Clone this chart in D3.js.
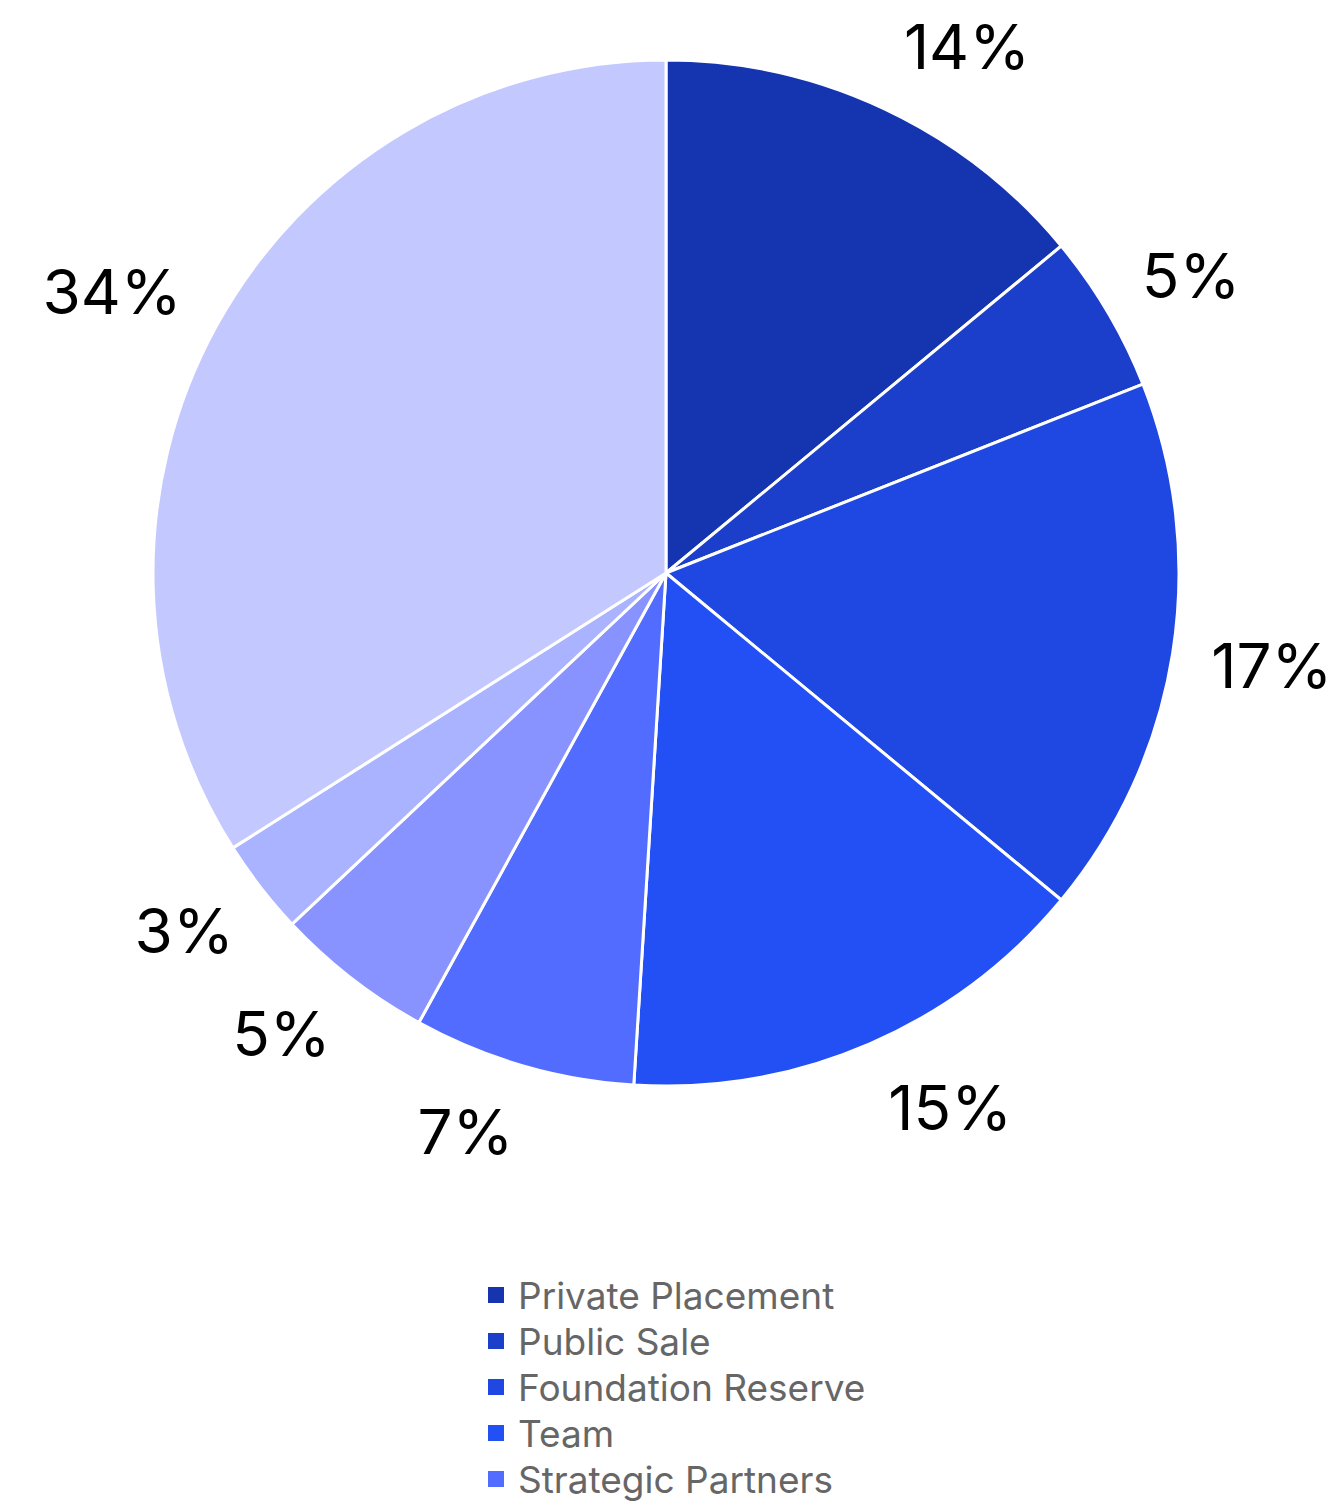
<!DOCTYPE html>
<html>
<head>
<meta charset="utf-8">
<script src="https://cdn.jsdelivr.net/npm/d3@7"></script>
<style>
  html, body { margin: 0; padding: 0; background: #fff; overflow: hidden; }
  svg { display: block; }
</style>
</head>
<body>
<svg id="chart" width="1343" height="1503"></svg>
<script>
const categories = ["Private Placement", "Public Sale", "Foundation Reserve", "Team", "Strategic Partners", "Ecosystem", "Advisors", "Community"];
const values = [14, 5, 17, 15, 7, 5, 3, 34];
const colors = ["#1534B0", "#1B3ECB", "#1F48E3", "#2250F5", "#526CFF", "#8893FF", "#AAB3FF", "#C3C8FE"];

const W = 1343, H = 1503;
const cx = 666, cy = 573, R = 513;
const svg = d3.select("#chart");

const pie = d3.pie().sort(null).value(d => d.v);
const data = categories.map((c, i) => ({ c, v: values[i], col: colors[i] }));
const arcs = pie(data);
const arcGen = d3.arc().innerRadius(0).outerRadius(R);

const g = svg.append("g").attr("transform", `translate(${cx},${cy})`);
g.selectAll("path").data(arcs).enter().append("path")
  .attr("d", arcGen)
  .attr("fill", d => d.data.col)
  .attr("stroke", "#fff")
  .attr("stroke-width", 3)
  .attr("stroke-linejoin", "round");

// labels outside each slice
const offset = 34;
const fontSize = 62;
arcs.forEach(a => {
  const mid = (a.startAngle + a.endAngle) / 2;
  const vx = Math.sin(mid), vy = -Math.cos(mid);
  const t = g.append("text")
    .attr("font-family", "Inter, 'Noto Sans', sans-serif")
    .attr("font-size", fontSize)
    .attr("fill", "#000")
    .attr("text-anchor", "middle")
    .attr("dominant-baseline", "central")
    .text(a.data.v + "%");
  const w = t.node().getComputedTextLength();
  const hh = 33;
  const x = (R + offset) * vx + Math.sign(vx) * (w / 2 + 5) + (vx < 0 && vy > 0 ? 5 : 0);
  const y = (R + offset) * vy + vy * hh + (vy > 0 ? 2 : -2);
  t.attr("x", x).attr("y", y);
});

// legend (rows that fall past the page bottom are not drawn)
const lx = 488, ly0 = 1295, step = 46;
const leg = svg.append("g");
data.forEach((d, i) => {
  const y = ly0 + i * step;
  if (y > H) return;
  leg.append("rect").attr("x", lx).attr("y", y - 8).attr("width", 16).attr("height", 16).attr("fill", d.col);
  leg.append("text")
    .attr("x", lx + 30).attr("y", y)
    .attr("dominant-baseline", "central")
    .attr("font-family", "Inter, 'Noto Sans', sans-serif")
    .attr("font-size", 37)
    .attr("fill", "#666")
    .text(d.c);
});
</script>
</body>
</html>
